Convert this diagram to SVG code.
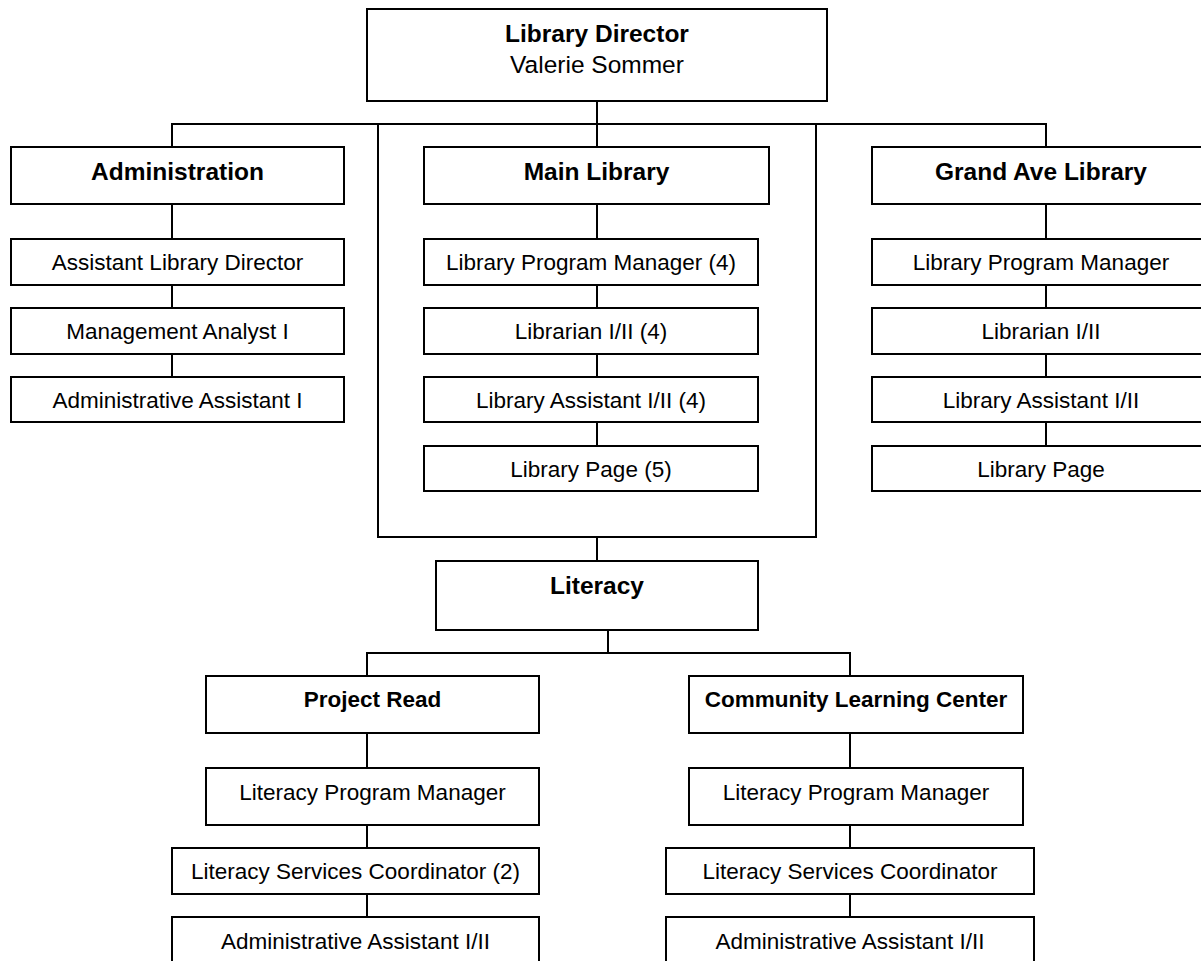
<svg xmlns="http://www.w3.org/2000/svg" width="1201" height="961" viewBox="0 0 1201 961">
  <style>
    .box { fill: #fff; stroke: #000; stroke-width: 2; }
    .wire { fill: none; stroke: #000; stroke-width: 2; }
    text { font-family: "Liberation Sans", Arial, sans-serif; fill: #000; text-anchor: middle; }
    .head { font-weight: bold; font-size: 24.5px; }
    .sub { font-weight: bold; font-size: 22.5px; }
    .role { font-size: 22.5px; }
    .name { font-size: 24.5px; }
  </style>
  <rect width="1201" height="961" fill="#fff"/>

  <!-- connectors -->
  <g id="connectors">
    <path class="wire" d="M597,101 V147"/>
    <path class="wire" d="M172,147 V124 H1046 V147"/>
    <path class="wire" d="M378,124 V537 H816 V124"/>
    <path class="wire" d="M597,537 V561"/>
    <path class="wire" d="M172,204 V239 M172,285 V308 M172,354 V377"/>
    <path class="wire" d="M597,204 V239 M597,285 V308 M597,354 V377 M597,422 V446"/>
    <path class="wire" d="M1046,204 V239 M1046,285 V308 M1046,354 V377 M1046,422 V446"/>
    <path class="wire" d="M608,630 V653 M367,676 V653 H850 V676"/>
    <path class="wire" d="M367,733 V768 M367,825 V848 M367,894 V917"/>
    <path class="wire" d="M850,733 V768 M850,825 V848 M850,894 V917"/>
  </g>

  <!-- top -->
  <g id="director">
    <rect class="box" x="367" y="9" width="460" height="92"/>
    <text class="head" x="597" y="42">Library Director</text>
    <text class="name" x="597" y="73">Valerie Sommer</text>
  </g>

  <!-- Administration column -->
  <g id="administration">
    <rect class="box" x="11" y="147" width="333" height="57"/>
    <text class="head" x="177.5" y="180">Administration</text>
  </g>
  <g id="assistant-director">
    <rect class="box" x="11" y="239" width="333" height="46"/>
    <text class="role" x="177.5" y="270">Assistant Library Director</text>
  </g>
  <g id="management-analyst">
    <rect class="box" x="11" y="308" width="333" height="46"/>
    <text class="role" x="177.5" y="339">Management Analyst I</text>
  </g>
  <g id="admin-assistant">
    <rect class="box" x="11" y="377" width="333" height="45"/>
    <text class="role" x="177.5" y="408">Administrative Assistant I</text>
  </g>

  <!-- Main Library column -->
  <g id="main-library">
    <rect class="box" x="424" y="147" width="345" height="57"/>
    <text class="head" x="596.5" y="180">Main Library</text>
  </g>
  <g id="main-program-manager">
    <rect class="box" x="424" y="239" width="334" height="46"/>
    <text class="role" x="591" y="270">Library Program Manager (4)</text>
  </g>
  <g id="main-librarian">
    <rect class="box" x="424" y="308" width="334" height="46"/>
    <text class="role" x="591" y="339">Librarian I/II (4)</text>
  </g>
  <g id="main-assistant">
    <rect class="box" x="424" y="377" width="334" height="45"/>
    <text class="role" x="591" y="408">Library Assistant I/II (4)</text>
  </g>
  <g id="main-page">
    <rect class="box" x="424" y="446" width="334" height="45"/>
    <text class="role" x="591" y="477">Library Page (5)</text>
  </g>

  <!-- Grand Ave column -->
  <g id="grand-ave">
    <rect class="box" x="872" y="147" width="338" height="57"/>
    <text class="head" x="1041" y="180">Grand Ave Library</text>
  </g>
  <g id="grand-program-manager">
    <rect class="box" x="872" y="239" width="338" height="46"/>
    <text class="role" x="1041" y="270">Library Program Manager</text>
  </g>
  <g id="grand-librarian">
    <rect class="box" x="872" y="308" width="338" height="46"/>
    <text class="role" x="1041" y="339">Librarian I/II</text>
  </g>
  <g id="grand-assistant">
    <rect class="box" x="872" y="377" width="338" height="45"/>
    <text class="role" x="1041" y="408">Library Assistant I/II</text>
  </g>
  <g id="grand-page">
    <rect class="box" x="872" y="446" width="338" height="45"/>
    <text class="role" x="1041" y="477">Library Page</text>
  </g>

  <!-- Literacy -->
  <g id="literacy">
    <rect class="box" x="436" y="561" width="322" height="69"/>
    <text class="head" x="597" y="594">Literacy</text>
  </g>

  <!-- Project Read column -->
  <g id="project-read">
    <rect class="box" x="206" y="676" width="333" height="57"/>
    <text class="sub" x="372.5" y="707">Project Read</text>
  </g>
  <g id="pr-program-manager">
    <rect class="box" x="206" y="768" width="333" height="57"/>
    <text class="role" x="372.5" y="800">Literacy Program Manager</text>
  </g>
  <g id="pr-coordinator">
    <rect class="box" x="172" y="848" width="367" height="46"/>
    <text class="role" x="355.5" y="879">Literacy Services Coordinator (2)</text>
  </g>
  <g id="pr-assistant">
    <rect class="box" x="172" y="917" width="367" height="50"/>
    <text class="role" x="355.5" y="949">Administrative Assistant I/II</text>
  </g>

  <!-- Community Learning Center column -->
  <g id="clc">
    <rect class="box" x="689" y="676" width="334" height="57"/>
    <text class="sub" x="856" y="707">Community Learning Center</text>
  </g>
  <g id="clc-program-manager">
    <rect class="box" x="689" y="768" width="334" height="57"/>
    <text class="role" x="856" y="800">Literacy Program Manager</text>
  </g>
  <g id="clc-coordinator">
    <rect class="box" x="666" y="848" width="368" height="46"/>
    <text class="role" x="850" y="879">Literacy Services Coordinator</text>
  </g>
  <g id="clc-assistant">
    <rect class="box" x="666" y="917" width="368" height="50"/>
    <text class="role" x="850" y="949">Administrative Assistant I/II</text>
  </g>
</svg>
